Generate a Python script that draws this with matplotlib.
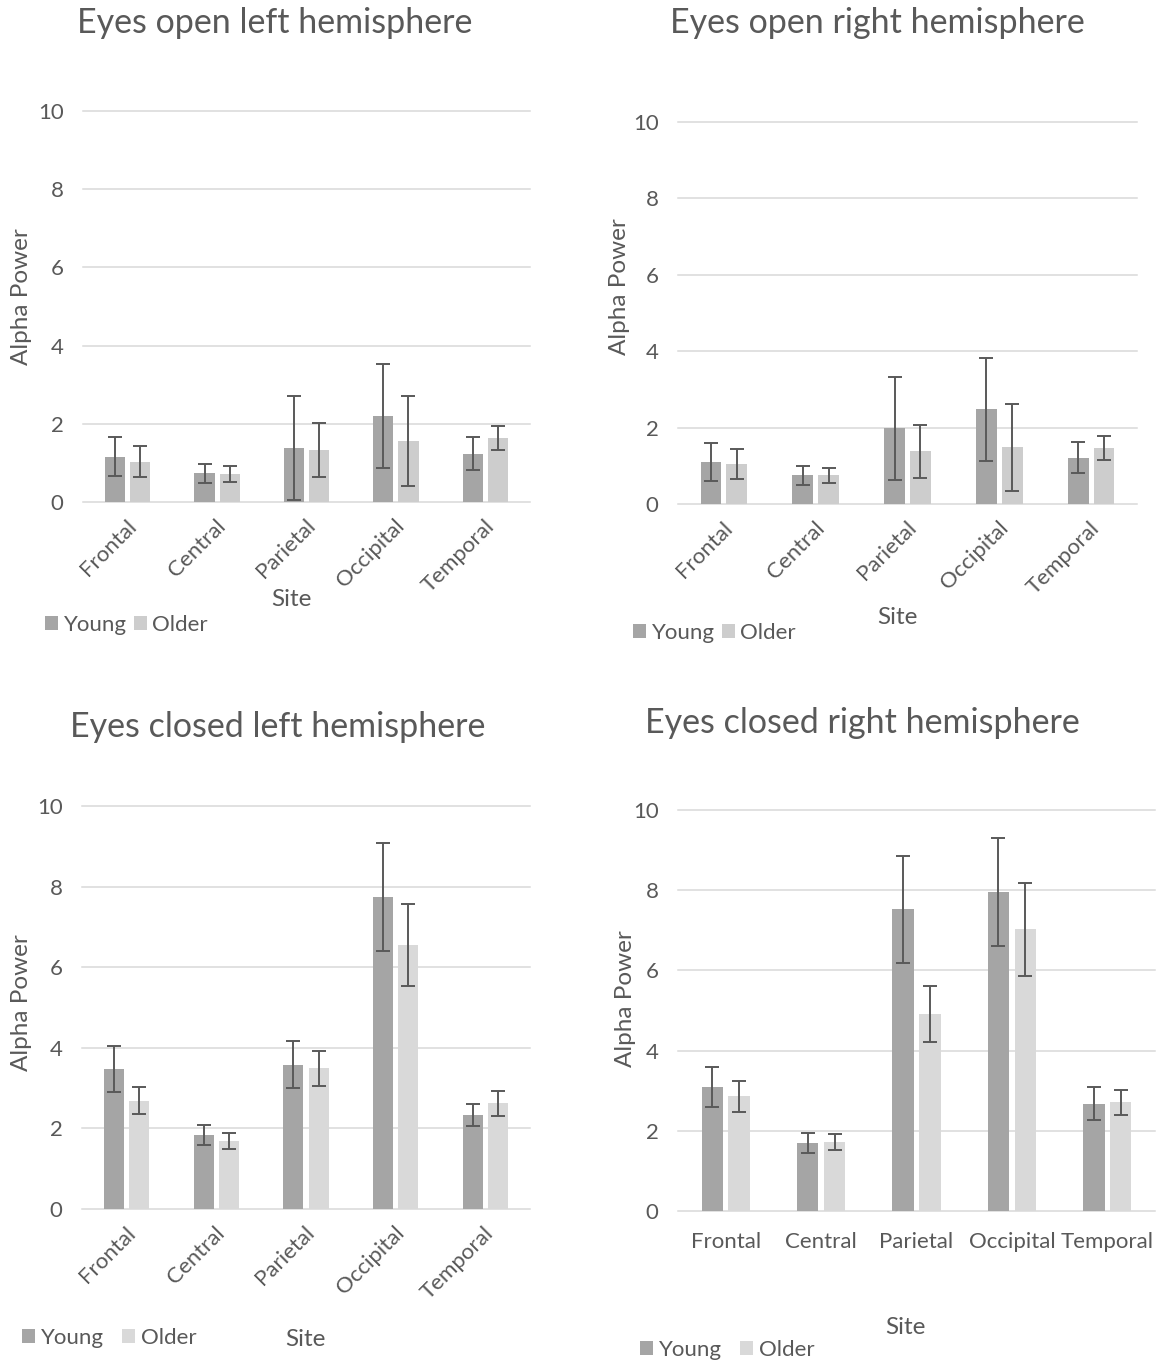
import matplotlib
matplotlib.use("Agg")
import matplotlib.pyplot as plt
import matplotlib.transforms as mtransforms
from matplotlib.patches import Patch
import numpy as np

plt.rcParams['font.family'] = ['Lato', 'DejaVu Sans']

W, H = 1156, 1367
DPI = 100

sites = ["Frontal", "Central", "Parietal", "Occipital", "Temporal"]
groups = ["Young", "Older"]

titles = ["Eyes open left hemisphere", "Eyes open right hemisphere",
          "Eyes closed left hemisphere", "Eyes closed right hemisphere"]

# Eyes open left
eol_young = [1.16, 0.73, 1.38, 2.20, 1.23]
eol_young_err = [0.49, 0.25, 1.34, 1.34, 0.42]
eol_older = [1.03, 0.72, 1.33, 1.57, 1.64]
eol_older_err = [0.39, 0.20, 0.69, 1.15, 0.31]
# Eyes open right
eor_young = [1.10, 0.75, 1.98, 2.48, 1.21]
eor_young_err = [0.49, 0.25, 1.34, 1.35, 0.41]
eor_older = [1.05, 0.75, 1.38, 1.48, 1.47]
eor_older_err = [0.39, 0.20, 0.69, 1.15, 0.31]
# Eyes closed left
ecl_young = [3.47, 1.83, 3.58, 7.74, 2.33]
ecl_young_err = [0.57, 0.25, 0.58, 1.33, 0.28]
ecl_older = [2.69, 1.68, 3.49, 6.55, 2.62]
ecl_older_err = [0.34, 0.20, 0.43, 1.01, 0.30]
# Eyes closed right
ecr_young = [3.09, 1.69, 7.52, 7.95, 2.67]
ecr_young_err = [0.49, 0.25, 1.34, 1.34, 0.41]
ecr_older = [2.86, 1.73, 4.92, 7.02, 2.71]
ecr_older_err = [0.39, 0.20, 0.70, 1.15, 0.31]

yticks = [0, 2, 4, 6, 8, 10]

YOUNG_C = "#A5A5A5"
OLDER_C_TOP = "#CDCDCD"
OLDER_C_BOT = "#D9D9D9"
GRID_C = "#D9D9D9"
TEXT_C = "#595959"
ERR_C = "#595959"

fig = plt.figure(figsize=(W / DPI, H / DPI), dpi=DPI)


def px_axes(x0, x1, ytop, ybot):
    return fig.add_axes([x0 / W, 1 - ybot / H, (x1 - x0) / W, (ybot - ytop) / H])


def fx(x):
    return x / W


def fy(y):
    return 1 - y / H


panels = [
    dict(data=(eol_young, eol_young_err, eol_older, eol_older_err), box=(83, 530, 111, 502),
         title=(275, 23), ylab=(22, 297), site=(291, 600), leg=(45, 625), rot=True,
         oc=OLDER_C_TOP, cs=0.3),
    dict(data=(eor_young, eor_young_err, eor_older, eor_older_err), box=(678, 1137, 122, 504),
         title=(877, 23), ylab=(620, 287), site=(897, 617), leg=(633, 633), rot=True,
         oc=OLDER_C_TOP, cs=0.3),
    dict(data=(ecl_young, ecl_young_err, ecl_older, ecl_older_err), box=(82, 530, 806, 1209),
         title=(278, 727), ylab=(22, 1003), site=(305, 1340), leg=(22, 1338), rot=True,
         oc=OLDER_C_BOT, cs=0.8),
    dict(data=(ecr_young, ecr_young_err, ecr_older, ecr_older_err), box=(678, 1155, 810, 1211),
         title=(862, 723), ylab=(625, 999), site=(905, 1328), leg=(640, 1350), rot=False,
         oc=OLDER_C_BOT, cs=0.8),
]

x = np.arange(len(sites))
bw = 0.225
off = bw / 2 + 0.028

for p, title in zip(panels, titles):
    yv, ye, ov, oe = p["data"]
    ax = px_axes(*p["box"])
    ax.set_xlim(-0.5, len(sites) - 0.5)
    ax.set_ylim(0, 10)
    for yt in yticks:
        ax.axhline(yt, color=GRID_C, lw=1.1, zorder=0, clip_on=False)
    ekw = dict(ecolor=ERR_C, elinewidth=1.4, capsize=5, capthick=1.4)
    ax.bar(x - off, yv, bw, yerr=ye, color=YOUNG_C, error_kw=ekw, zorder=2, label=groups[0])
    ax.bar(x + off, ov, bw, yerr=oe, color=p["oc"], error_kw=ekw, zorder=2, label=groups[1])
    for s in ax.spines.values():
        s.set_visible(False)
    ax.set_yticks(yticks)
    ax.set_yticklabels([str(t) for t in yticks])
    ax.tick_params(axis='y', length=0, pad=14, labelsize=16, labelcolor=TEXT_C)
    ax.set_xticks(x)
    if p["rot"]:
        ax.set_xticklabels(sites, rotation=45, ha='right', va='center', rotation_mode='anchor')
        ax.tick_params(axis='x', length=0, pad=15, labelsize=16, labelcolor=TEXT_C)
        shift = mtransforms.ScaledTranslation(4 / 72, 0, fig.dpi_scale_trans)
        for lab in ax.get_xticklabels():
            lab.set_transform(lab.get_transform() + shift)
    else:
        ax.set_xticklabels(sites)
        ax.tick_params(axis='x', length=0, pad=15, labelsize=16, labelcolor=TEXT_C)
    fig.text(fx(p["title"][0]), fy(p["title"][1]), title, ha='center', va='center',
             fontsize=24.5, color=TEXT_C)
    fig.text(fx(p["ylab"][0]), fy(p["ylab"][1]), "Alpha Power", ha='center', va='center',
             rotation=90, fontsize=17.5, color=TEXT_C)
    fig.text(fx(p["site"][0]), fy(p["site"][1]), "Site", ha='center', va='center',
             fontsize=17.5, color=TEXT_C)
    handles = [Patch(facecolor=YOUNG_C, edgecolor='none', label=groups[0]),
               Patch(facecolor=p["oc"], edgecolor='none', label=groups[1])]
    fig.legend(handles=handles, loc='center left', bbox_to_anchor=(fx(p["leg"][0]), fy(p["leg"][1])),
               ncol=2, frameon=False, fontsize=16, handlelength=0.6, handleheight=0.6,
               handletextpad=0.25, columnspacing=p["cs"], borderpad=0, borderaxespad=0,
               labelcolor=TEXT_C)

fig.savefig("out.png", dpi=DPI, facecolor='white')
